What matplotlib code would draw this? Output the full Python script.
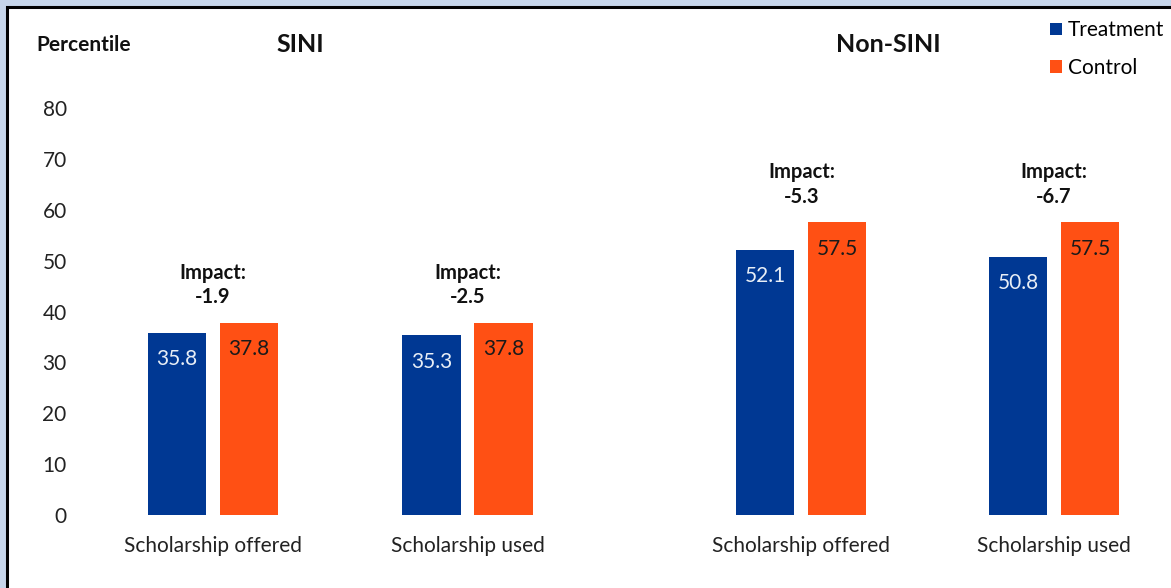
import matplotlib
matplotlib.use("Agg")
import matplotlib.pyplot as plt
from matplotlib.patches import Rectangle

# --- DADOS ---
categorias = ["Scholarship offered", "Scholarship used", "Scholarship offered", "Scholarship used"]
painel = ["SINI", "SINI", "Non-SINI", "Non-SINI"]
tratamento = [35.8, 35.3, 52.1, 50.8]
controle = [37.8, 37.8, 57.5, 57.5]
impacto = ["-1.9", "-2.5", "-5.3", "-6.7"]
y_ticks = [0, 10, 20, 30, 40, 50, 60, 70, 80]

# --- LAYOUT ---
W, H = 1171, 588
COR_TRAT = "#003893"
COR_CTRL = "#FF5014"
COR_FUNDO = "#C6D5EA"
posicoes = [0, 1, 2.312, 3.305]   # centros dos grupos (unidades de eixo)
largura = 0.228
desloc = 0.1415

plt.rcParams["font.family"] = ["Lato", "DejaVu Sans"]

fig = plt.figure(figsize=(W / 100, H / 100), dpi=100)
fig.patch.set_facecolor(COR_FUNDO)

# moldura branca com borda preta
fig.patches.append(Rectangle((7 / W, -0.05), 1.1, 1 - 7 / H + 0.05,
                             transform=fig.transFigure, facecolor="white",
                             edgecolor="black", linewidth=2.2, zorder=-10))

ax = fig.add_axes([75 / W, (H - 515) / H, (1165 - 75) / W, (515 - 108) / H])
ax.set_facecolor("none")

x_t = [p - desloc for p in posicoes]
x_c = [p + desloc for p in posicoes]
b_t = ax.bar(x_t, tratamento, width=largura, color=COR_TRAT, label="Treatment")
b_c = ax.bar(x_c, controle, width=largura, color=COR_CTRL, label="Control")

for x, v in zip(x_t, tratamento):
    ax.annotate(f"{v:.1f}", (x, v), xytext=(0, -19), textcoords="offset points",
                ha="center", va="center", fontsize=15, color="#E8EEF6")
for x, v in zip(x_c, controle):
    ax.annotate(f"{v:.1f}", (x, v), xytext=(0, -19), textcoords="offset points",
                ha="center", va="center", fontsize=15, color="#1a1a1a")

for p, t, c, imp in zip(posicoes, tratamento, controle, impacto):
    ax.annotate(f"Impact:\n{imp}", (p, max(t, c)), xytext=(0, 11),
                textcoords="offset points", ha="center", va="bottom",
                fontsize=14.5, fontweight="bold", color="#111111",
                linespacing=1.3)

ax.set_xlim((75 - 213) / 254.5, (1165 - 213) / 254.5)
ax.set_ylim(0, 80)
ax.set_yticks(y_ticks)
ax.set_xticks(posicoes)
ax.set_xticklabels(categorias)
ax.tick_params(axis="y", length=0, pad=6, labelsize=15, labelcolor="#222222")
ax.tick_params(axis="x", length=0, pad=15, labelsize=15, labelcolor="#222222")
for s in ax.spines.values():
    s.set_visible(False)

# títulos dos painéis
fig.text(84 / W, 1 - 45 / H, "Percentile", ha="center", va="center",
         fontsize=15, fontweight="bold", color="#111111")
fig.text(300 / W, 1 - 45 / H, "SINI", ha="center", va="center",
         fontsize=18, fontweight="bold", color="#111111")
fig.text(888 / W, 1 - 45 / H, "Non-SINI", ha="center", va="center",
         fontsize=18, fontweight="bold", color="#111111")

fig.legend(handles=[b_t, b_c], loc="upper left",
           bbox_to_anchor=(1042 / W, 1 - 12 / H), frameon=False,
           fontsize=15, handlelength=0.55, handleheight=0.55,
           handletextpad=0.3, labelspacing=0.85, borderaxespad=0)

fig.savefig("out.png", dpi=100, facecolor=fig.get_facecolor())
